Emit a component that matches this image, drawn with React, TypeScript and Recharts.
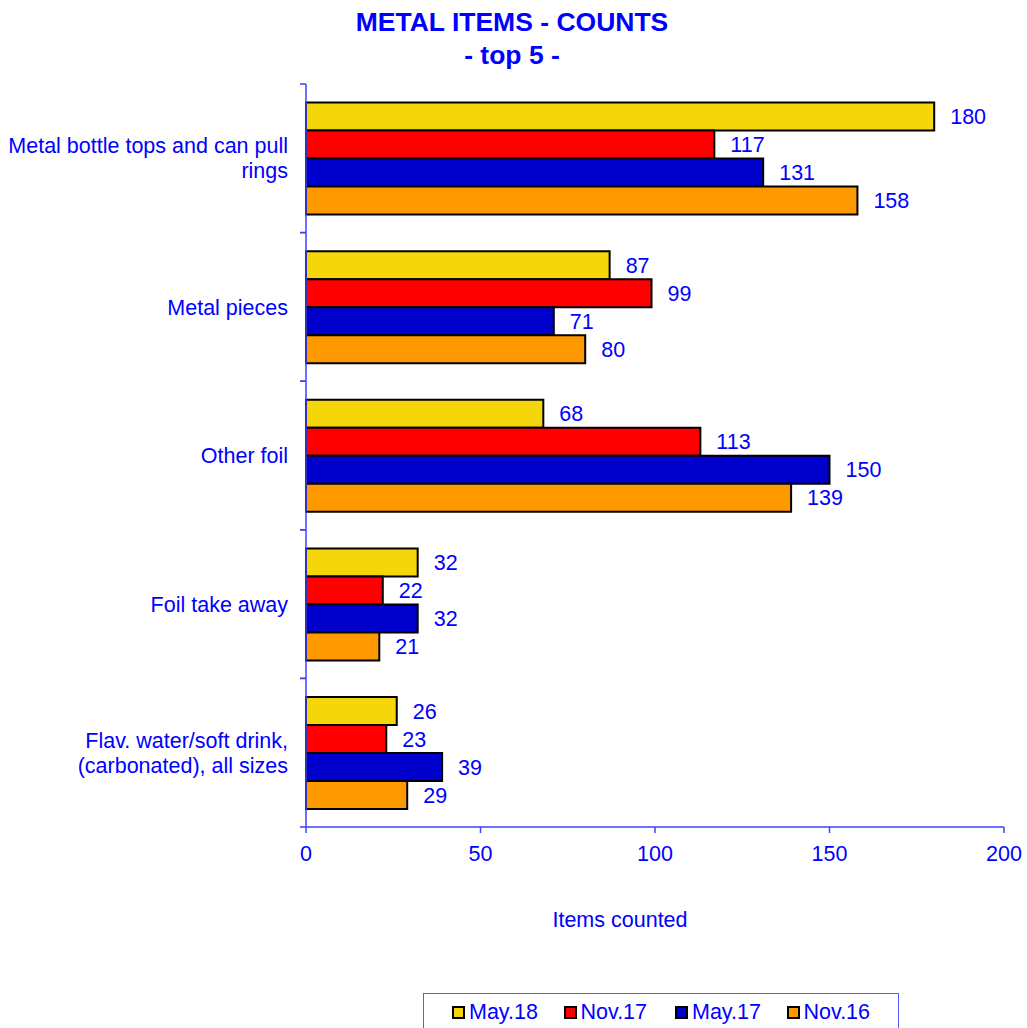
import React from 'react';
import { BarChart, Bar, XAxis, YAxis, LabelList, Text } from 'recharts';

const categories = [
  'Metal bottle tops and can pull\nrings',
  'Metal pieces',
  'Other foil',
  'Foil take away',
  'Flav. water/soft drink,\n(carbonated), all sizes',
];
const may18 = [180, 87, 68, 32, 26];
const nov17 = [117, 99, 113, 22, 23];
const may17 = [131, 71, 150, 32, 39];
const nov16 = [158, 80, 139, 21, 29];
const xTicks = [0, 50, 100, 150, 200];

const series = [
  { key: 'may18', name: 'May.18', color: '#f5d60a' },
  { key: 'nov17', name: 'Nov.17', color: '#ff0000' },
  { key: 'may17', name: 'May.17', color: '#0000cc' },
  { key: 'nov16', name: 'Nov.16', color: '#ff9900' },
];

const data = categories.map((name, i) => ({
  name,
  may18: may18[i],
  nov17: nov17[i],
  may17: may17[i],
  nov16: nov16[i],
}));

const FONT = 'Arial, "Liberation Sans", sans-serif';
const FS = 21.5;
const AXIS = '#4040ff';
const TEXT = '#0000ff';
const PLOT_LEFT = 306;
const PLOT_TOP = 84;
const PLOT_BOTTOM = 827;
const BAND = (PLOT_BOTTOM - PLOT_TOP) / categories.length;

const YTick = (props: any) => {
  const { y, payload } = props;
  const lines = String(payload.value).split('\n');
  const lh = 25;
  const y0 = y - ((lines.length - 1) * lh) / 2;
  return (
    <g>
      <line x1={PLOT_LEFT} x2={PLOT_LEFT - 6} y1={y - BAND / 2} y2={y - BAND / 2} stroke={AXIS} strokeWidth={1.5} />
      <line x1={PLOT_LEFT} x2={PLOT_LEFT - 6} y1={y + BAND / 2} y2={y + BAND / 2} stroke={AXIS} strokeWidth={1.5} />
      {lines.map((l, i) => (
        <Text
          key={i}
          x={PLOT_LEFT - 18}
          y={y0 + i * lh}
          textAnchor="end"
          verticalAnchor="middle"
          fill={TEXT}
          fontSize={FS}
          fontFamily={FONT}
        >
          {l}
        </Text>
      ))}
    </g>
  );
};

export default function App() {
  return (
    <div style={{ position: 'absolute', left: 0, top: 0, width: 1027, height: 1028, background: '#fff', overflow: 'hidden' }}>
      <div
        style={{
          position: 'absolute',
          left: 0,
          top: 6,
          width: 1024,
          textAlign: 'center',
          fontFamily: FONT,
          fontWeight: 'bold',
          fontSize: 26.5,
          lineHeight: '33px',
          color: TEXT,
        }}
      >
        METAL ITEMS - COUNTS
        <br />- top 5 -
      </div>
      <BarChart
        width={1027}
        height={1028}
        data={data}
        layout="vertical"
        margin={{ top: PLOT_TOP, right: 23, bottom: 171, left: 0 }}
        barCategoryGap="12.5%"
        barGap={0}
      >
        <XAxis
          type="number"
          domain={[0, 200]}
          ticks={xTicks}
          height={30}
          stroke={AXIS}
          strokeWidth={1.5}
          tickSize={6}
          tickMargin={13}
          tick={{ fill: TEXT, fontSize: FS, fontFamily: FONT }}
          label={{
            value: 'Items counted',
            position: 'bottom',
            offset: 55,
            dx: -35,
            fill: TEXT,
            fontSize: FS,
            fontFamily: FONT,
          }}
        />
        <YAxis
          type="category"
          dataKey="name"
          width={PLOT_LEFT}
          stroke={AXIS}
          strokeWidth={1.5}
          tickLine={false}
          tick={<YTick />}
          interval={0}
        />
        {series.map((s) => (
          <Bar
            key={s.key}
            dataKey={s.key}
            name={s.name}
            fill={s.color}
            stroke="#000"
            strokeWidth={2}
            isAnimationActive={false}
          >
            <LabelList dataKey={s.key} position="right" offset={16} fill={TEXT} fontSize={FS} fontFamily={FONT} />
          </Bar>
        ))}
      </BarChart>
      <div
        style={{
          position: 'absolute',
          left: 423,
          top: 993,
          width: 476,
          height: 60,
          border: '1.5px solid #5a5aff',
          boxSizing: 'border-box',
          display: 'flex',
          paddingLeft: 28,
          paddingTop: 6,
          fontFamily: FONT,
          fontSize: FS,
          color: TEXT,
        }}
      >
        {series.map((s) => (
          <div key={s.key} style={{ display: 'flex', alignItems: 'center', width: 113.5, height: 24 }}>
            <span
              style={{
                display: 'inline-block',
                width: 9,
                height: 9,
                background: s.color,
                border: '2px solid #000',
                marginRight: 4,
              }}
            />
            <span>{s.name}</span>
          </div>
        ))}
      </div>
    </div>
  );
}
